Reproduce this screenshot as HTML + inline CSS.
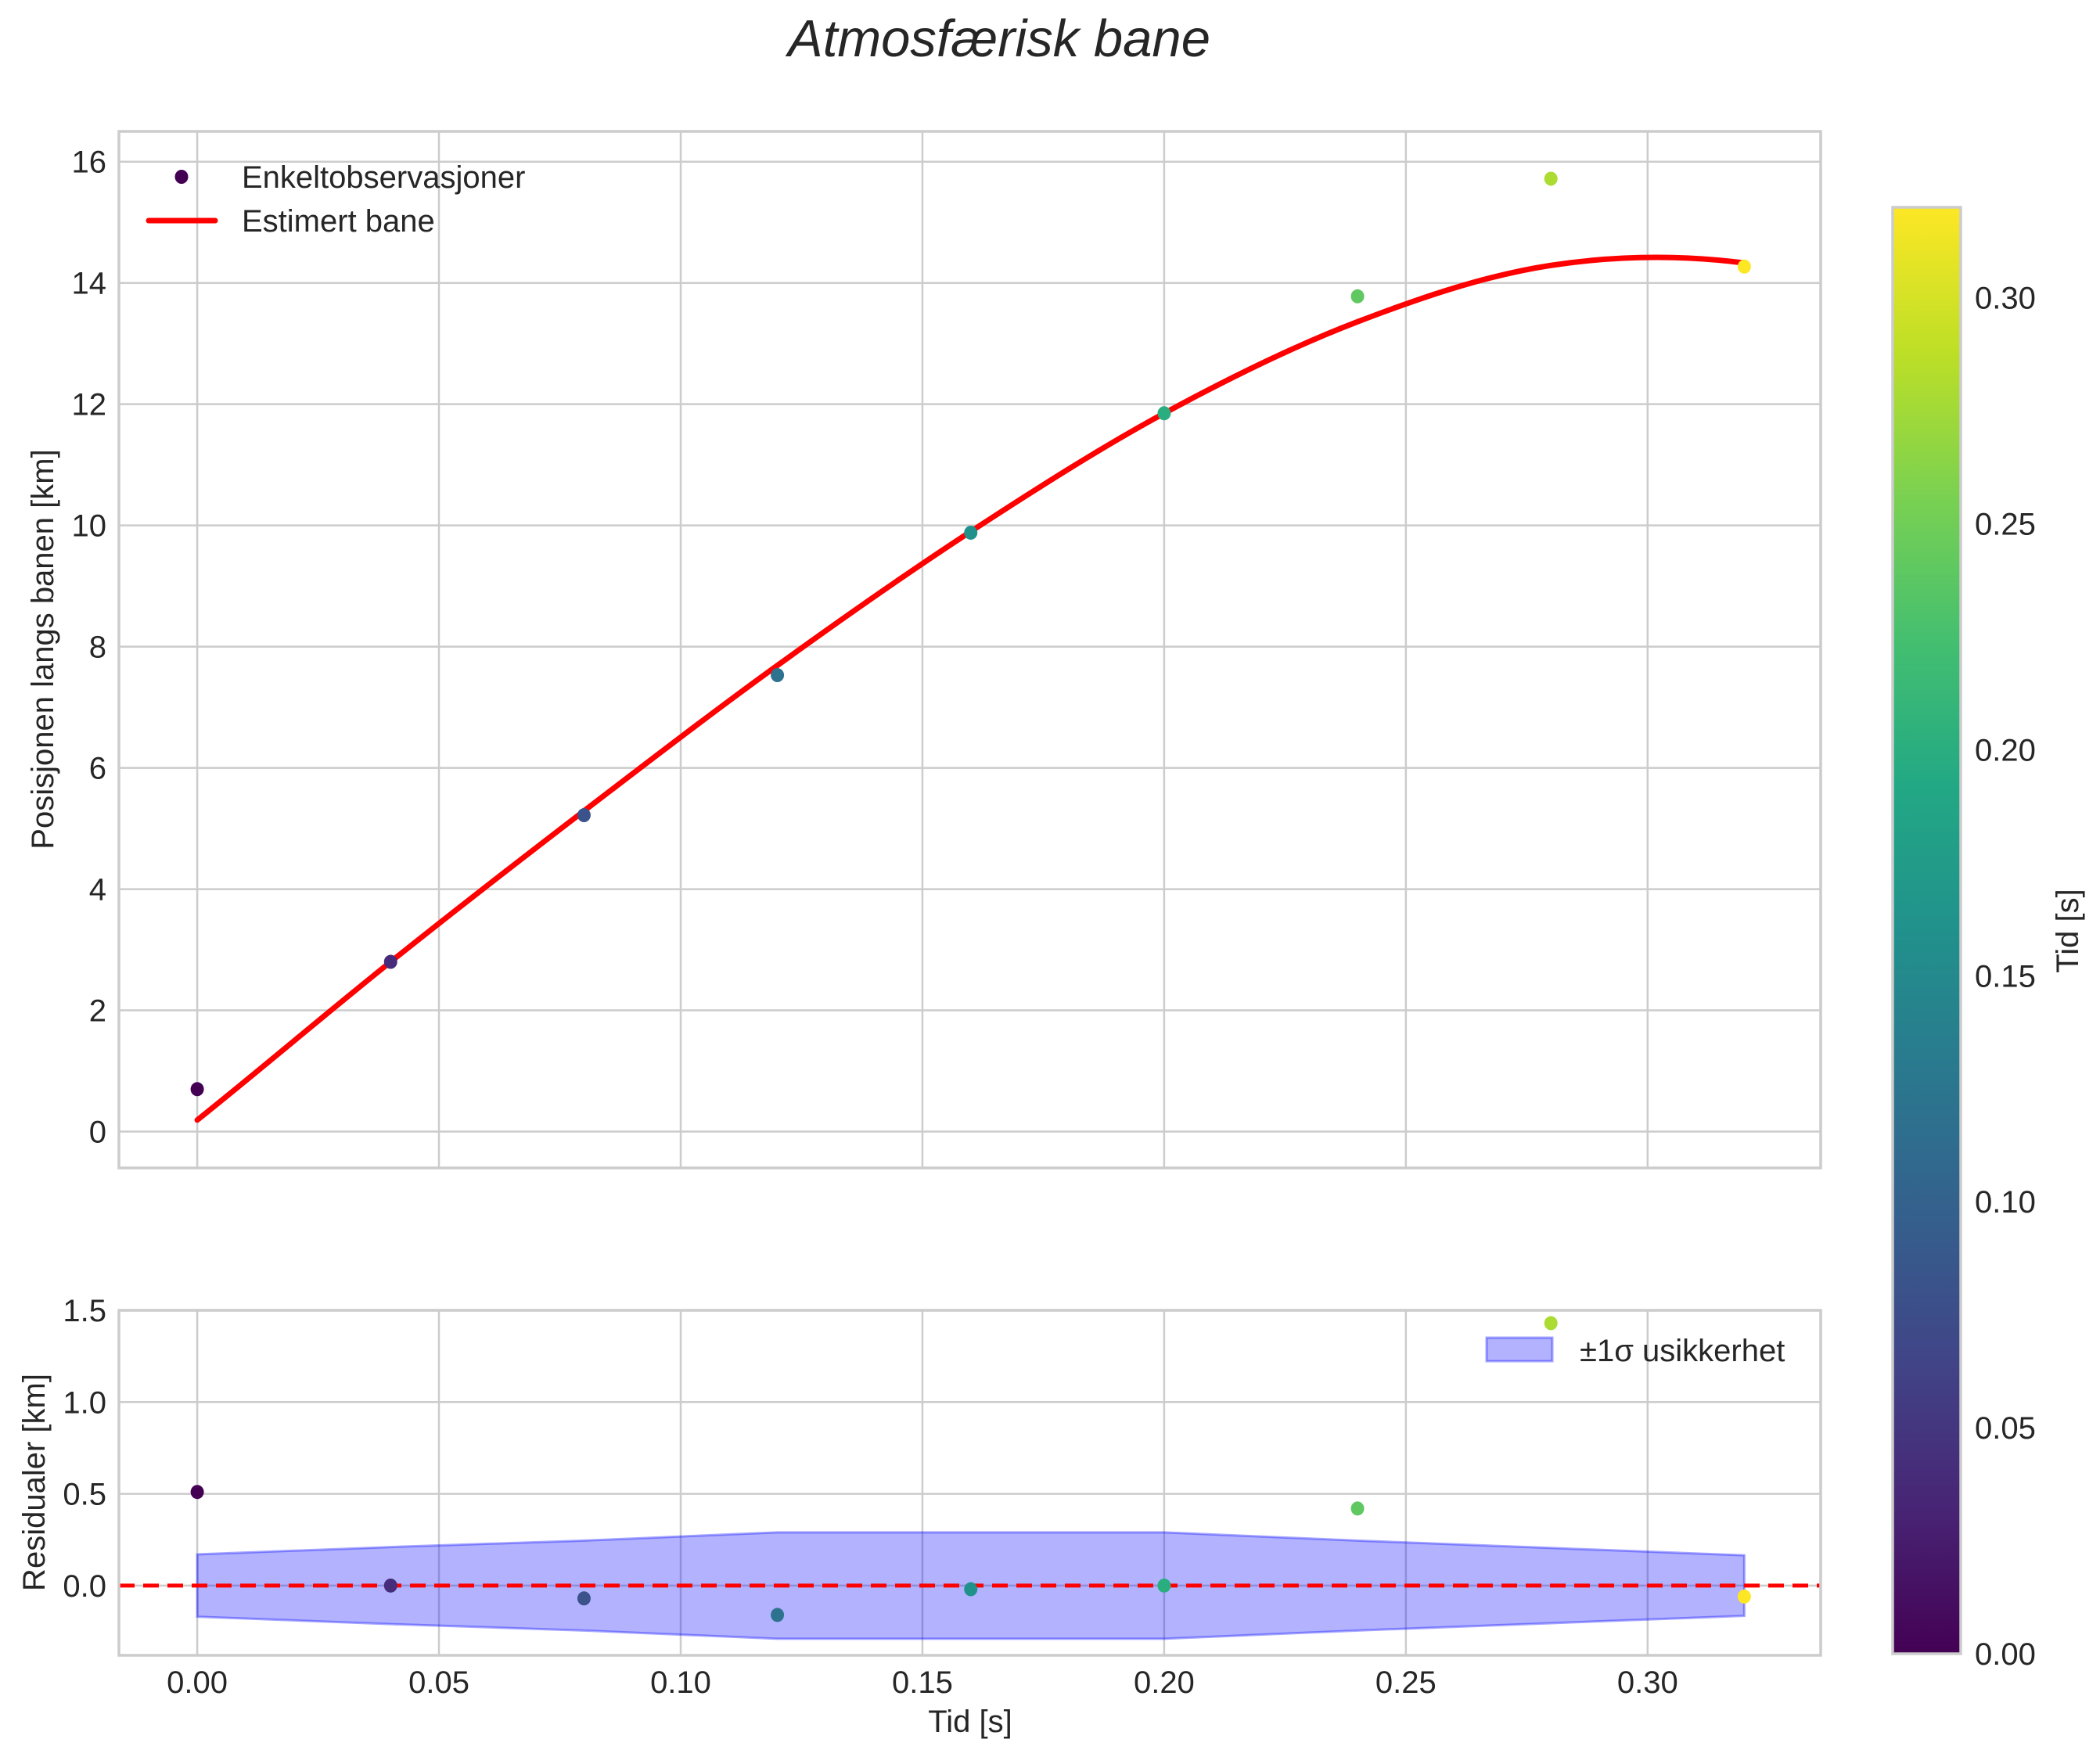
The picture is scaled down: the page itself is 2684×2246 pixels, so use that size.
<!DOCTYPE html>
<html><head><meta charset="utf-8"><style>
html,body{margin:0;padding:0;background:#fff;}
svg{display:block;font-family:"Liberation Sans",sans-serif;}
</style></head><body>
<svg id="fig" width="2684" height="2246" viewBox="0 0 2684 2246" xmlns="http://www.w3.org/2000/svg">
<defs>
<linearGradient id="vir" x1="0" y1="1" x2="0" y2="0">
<stop offset="0" stop-color="#440154"/><stop offset="0.1" stop-color="#482475"/><stop offset="0.2" stop-color="#414487"/><stop offset="0.3" stop-color="#355f8d"/><stop offset="0.4" stop-color="#2a788e"/><stop offset="0.5" stop-color="#21918c"/><stop offset="0.6" stop-color="#22a884"/><stop offset="0.7" stop-color="#44bf70"/><stop offset="0.8" stop-color="#7ad151"/><stop offset="0.9" stop-color="#bddf26"/><stop offset="1" stop-color="#fde725"/>
</linearGradient>
<clipPath id="clipTop"><rect x="152" y="168" width="2175" height="1325"/></clipPath>
<clipPath id="clipBot"><rect x="152" y="1675" width="2175" height="441"/></clipPath>
</defs>
<text x="1277" y="72" text-anchor="middle" font-size="67" font-style="italic" fill="#262626">Atmosfærisk bane</text>
<g id="topAxes"></g>
<g id="botAxes"></g>
<g id="cbarGroup"></g>
</svg>
<script>
const times = [0.00, 0.04, 0.08, 0.12, 0.16, 0.20, 0.24, 0.28, 0.32];
const observed = [0.70, 2.80, 5.22, 7.53, 9.88, 11.85, 13.78, 15.72, 14.27];
const residuals = [0.51, 0.00, -0.07, -0.16, -0.02, 0.00, 0.42, 1.43, -0.06];
const sigma = [0.17, 0.21, 0.245, 0.29, 0.29, 0.29, 0.245, 0.205, 0.165];
const topTicks = [0, 2, 4, 6, 8, 10, 12, 14, 16];
const botTicks = [0.0, 0.5, 1.0, 1.5];
const xTicks = [0.00, 0.05, 0.10, 0.15, 0.20, 0.25, 0.30];
const cbTicks = [0.00, 0.05, 0.10, 0.15, 0.20, 0.25, 0.30];

const NS = "http://www.w3.org/2000/svg";
const FS = 40;
const L = 152, R = 2327, X0 = -0.0162, X1 = 0.3358;
const TT = 168, TB = 1493, TY0 = -0.6, TY1 = 16.5;
const BT = 1675, BB = 2116, BY0 = -0.38, BY1 = 1.5;
const CL = 2419, CR = 2506, CT = 265, CB = 2114, CMAX = 0.32;
const xs = v => L + (v - X0) / (X1 - X0) * (R - L);
const yt = v => TB - (v - TY0) / (TY1 - TY0) * (TB - TT);
const yb = v => BB - (v - BY0) / (BY1 - BY0) * (BB - BT);
const yc = v => CB - v / CMAX * (CB - CT);

const vstops = ["#440154","#482475","#414487","#355f8d","#2a788e","#21918c","#22a884","#44bf70","#7ad151","#bddf26","#fde725"];
function hex(c){return [1,3,5].map(i=>parseInt(c.substr(i,2),16));}
function viridis(f){f=Math.max(0,Math.min(1,f));const p=f*10,i=Math.min(9,Math.floor(p)),t=p-i;const a=hex(vstops[i]),b=hex(vstops[i+1]);return "rgb("+a.map((v,k)=>Math.round(v+(b[k]-v)*t)).join(",")+")";}

function mk(parent, tag, attrs, text){const e=document.createElementNS(NS,tag);for(const k in attrs)e.setAttribute(k,attrs[k]);if(text!==undefined)e.textContent=text;parent.appendChild(e);return e;}

const gTop = document.getElementById("topAxes"), gBot = document.getElementById("botAxes"), gCb = document.getElementById("cbarGroup");
const fmt2 = v => v.toFixed(2);

for (const v of xTicks) {
  let g = mk(gTop,"line",{x1:xs(v),x2:xs(v),y1:TT,y2:TB,stroke:"#cccccc","stroke-width":2.5});
  
  
  g = mk(gBot,"line",{x1:xs(v),x2:xs(v),y1:BT,y2:BB,stroke:"#cccccc","stroke-width":2.5});
  
  
  const t = mk(gBot,"text",{x:xs(v),y:2164,"text-anchor":"middle","font-size":FS,fill:"#262626"},fmt2(v));
  
  
}
for (const v of topTicks) {
  const g = mk(gTop,"line",{x1:L,x2:R,y1:yt(v),y2:yt(v),stroke:"#cccccc","stroke-width":2.5});
  
  
  const t = mk(gTop,"text",{x:136,y:yt(v)+14,"text-anchor":"end","font-size":FS,fill:"#262626"},String(v));
  
  
}
for (const v of botTicks) {
  const g = mk(gBot,"line",{x1:L,x2:R,y1:yb(v),y2:yb(v),stroke:"#cccccc","stroke-width":2.5});
  
  
  const t = mk(gBot,"text",{x:136,y:yb(v)+14,"text-anchor":"end","font-size":FS,fill:"#262626"},v.toFixed(1));
  
  
}

const fitted = observed.map((o,i)=>o-residuals[i]);
function smoothPath(px, py){
  const n = px.length;
  // extrapolated phantom end points for natural-looking ends
  const ex0 = 2*px[0]-px[1], ey0 = py[0]-(py[1]-py[0]) - ((py[2]-py[1])-(py[1]-py[0]));
  const exn = 2*px[n-1]-px[n-2], eyn = py[n-1]+(py[n-1]-py[n-2]) + ((py[n-1]-py[n-2])-(py[n-2]-py[n-3]));
  const X = [ex0, ...px, exn], Y = [ey0, ...py, eyn];
  let d = "M"+px[0]+","+py[0];
  for (let i=1;i<X.length-2;i++){
    const x0=X[i-1],y0=Y[i-1],x1=X[i],y1=Y[i],x2=X[i+1],y2=Y[i+1],x3=X[i+2],y3=Y[i+2];
    d += " C"+(x1+(x2-x0)/6)+","+(y1+(y2-y0)/6)+" "+(x2-(x3-x1)/6)+","+(y2-(y3-y1)/6)+" "+x2+","+y2;
  }
  return d;
}
const curve = mk(gTop,"path",{d:smoothPath(times.map(xs),fitted.map(yt)),fill:"none",stroke:"#ff0000","stroke-width":7,"stroke-linecap":"round","clip-path":"url(#clipTop)"});



times.forEach((t,i)=>{
  const c = mk(gTop,"ellipse",{cx:xs(t),cy:yt(observed[i]),rx:8.5,ry:9,fill:viridis(t/CMAX)});
  
  
});

let bd = "M"+times.map((t,i)=>xs(t)+","+yb(sigma[i])).join(" L");
bd += " L"+times.slice().reverse().map((t,j)=>{const i=times.length-1-j;return xs(t)+","+yb(-sigma[i]);}).join(" L")+" Z";
const band = mk(gBot,"path",{d:bd,fill:"rgba(0,0,255,0.3)",stroke:"rgba(0,0,255,0.35)","stroke-width":3});


const zl = mk(gBot,"line",{x1:L,x2:R,y1:yb(0),y2:yb(0),stroke:"#ff0000","stroke-width":5,"stroke-dasharray":"20 11"});


times.forEach((t,i)=>{
  const c = mk(gBot,"ellipse",{cx:xs(t),cy:yb(residuals[i]),rx:8.5,ry:9,fill:viridis(t/CMAX),"clip-path":"url(#clipBot)"});
  
  
});

let sp = mk(gTop,"rect",{x:L,y:TT,width:R-L,height:TB-TT,fill:"none",stroke:"#cccccc","stroke-width":3.5});


sp = mk(gBot,"rect",{x:L,y:BT,width:R-L,height:BB-BT,fill:"none",stroke:"#cccccc","stroke-width":3.5});



let al = mk(gTop,"text",{x:0,y:0,transform:"translate(68,830) rotate(-90)","text-anchor":"middle","font-size":FS,fill:"#262626"},"Posisjonen langs banen [km]");


al = mk(gBot,"text",{x:0,y:0,transform:"translate(57,1895) rotate(-90)","text-anchor":"middle","font-size":FS,fill:"#262626"},"Residualer [km]");


al = mk(gBot,"text",{x:1240,y:2214,"text-anchor":"middle","font-size":FS,fill:"#262626"},"Tid [s]");



const lg1 = mk(gTop,"g",{});


let e = mk(lg1,"ellipse",{cx:232,cy:226,rx:8.5,ry:9,fill:"#440154"});


e = mk(lg1,"text",{x:309,y:240,"font-size":FS,fill:"#262626"},"Enkeltobservasjoner");


e = mk(lg1,"line",{x1:190,x2:275,y1:282,y2:282,stroke:"#ff0000","stroke-width":7,"stroke-linecap":"round"});


e = mk(lg1,"text",{x:309,y:296,"font-size":FS,fill:"#262626"},"Estimert bane");


const lg2 = mk(gBot,"g",{});


e = mk(lg2,"rect",{x:1900,y:1710,width:84,height:30,fill:"rgba(0,0,255,0.3)",stroke:"rgba(0,0,255,0.35)","stroke-width":3});


e = mk(lg2,"text",{x:2019,y:1740,"font-size":FS,fill:"#262626"},"±1σ usikkerhet");



e = mk(gCb,"rect",{x:CL,y:CT,width:CR-CL,height:CB-CT,fill:"url(#vir)",stroke:"#cccccc","stroke-width":3.5});


for (const v of cbTicks){
  const t = mk(gCb,"text",{x:2524,y:yc(v)+14,"font-size":FS,fill:"#262626"},fmt2(v));
  
  
}
e = mk(gCb,"text",{x:0,y:0,transform:"translate(2656,1190) rotate(-90)","text-anchor":"middle","font-size":FS,fill:"#262626"},"Tid [s]");


</script>
</body></html>
